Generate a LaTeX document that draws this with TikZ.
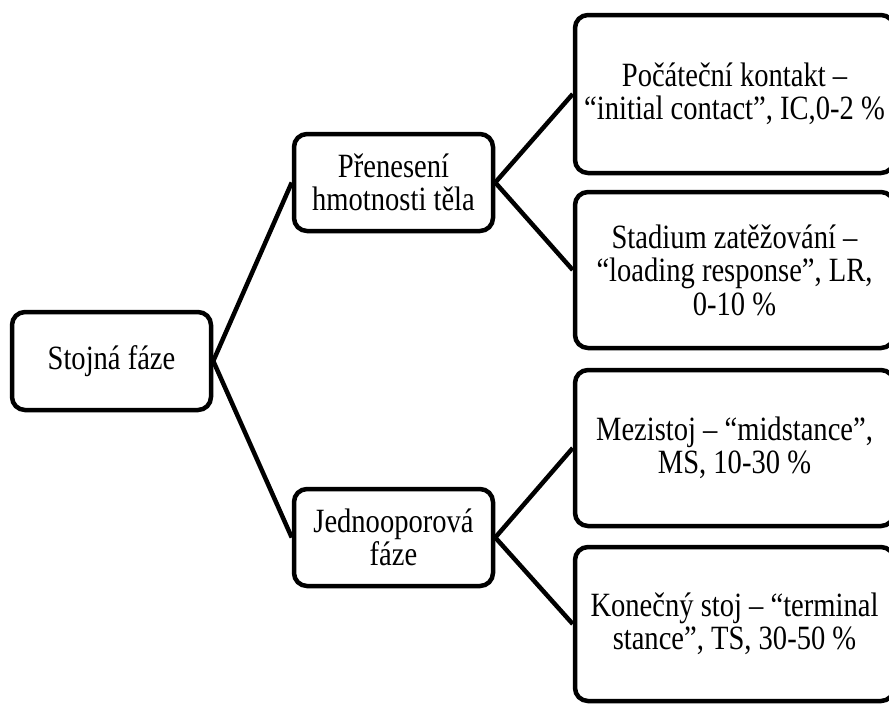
\documentclass[tikz,border=0pt]{standalone}
\usepackage{fontspec}
\setmainfont{Liberation Serif}[FakeStretch=0.84]
\begin{document}
\begin{tikzpicture}[x=1pt,y=-1pt,
  box/.style={draw=black, line width=4.5pt, rounded corners=13pt, fill=white,
    align=center, inner sep=0pt, font=\fontsize{34}{33.5}\selectfont},
  conn/.style={draw=black, line width=4.5pt}]
\useasboundingbox (0,0) rectangle (889,707);
\node[box, minimum width=199pt, minimum height=98pt] (root) at (111.5,361) {Stojná fáze};
\node[box, minimum width=199pt, minimum height=97pt] (b2) at (393.5,182.5) {Přenesení\\hmotnosti těla};
\node[box, minimum width=199pt, minimum height=97pt] (b3) at (393.5,537.5) {Jednooporová\\fáze};
\node[box, minimum width=319pt, minimum height=158pt] (b4) at (734.5,94) {Počáteční kontakt –\\“initial contact”, IC,0-2 \%};
\node[box, minimum width=319pt, minimum height=156pt] (b5) at (734.5,270) {Stadium zatěžování –\\“loading response”, LR,\\0-10 \%};
\node[box, minimum width=319pt, minimum height=156pt] (b6) at (734.5,448) {Mezistoj – “midstance”,\\MS, 10-30 \%};
\node[box, minimum width=319pt, minimum height=154pt] (b7) at (734.5,624) {Konečný stoj – “terminal\\stance”, TS, 30-50 \%};
\draw[conn] (root.east) -- (b2.west);
\draw[conn] (root.east) -- (b3.west);
\draw[conn] (b2.east) -- (b4.west);
\draw[conn] (b2.east) -- (b5.west);
\draw[conn] (b3.east) -- (b6.west);
\draw[conn] (b3.east) -- (b7.west);
\end{tikzpicture}
\end{document}
